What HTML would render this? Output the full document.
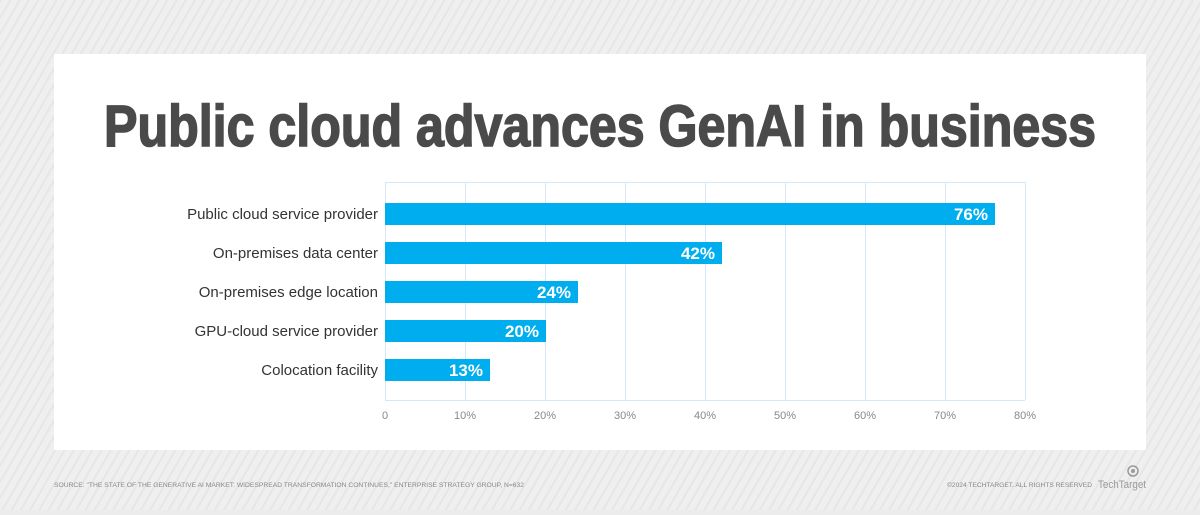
<!DOCTYPE html>
<html><head><style>
html,body{margin:0;padding:0;}
body{width:1200px;height:510px;overflow:hidden;background:#ececec;font-family:"Liberation Sans",sans-serif;}
</style></head><body>
<svg width="1200" height="510" xmlns="http://www.w3.org/2000/svg" font-family="Liberation Sans, sans-serif">
<defs>
<pattern id="st" width="8" height="8" patternUnits="userSpaceOnUse" patternTransform="rotate(30)">
<rect width="8" height="8" fill="#efefef"/><rect width="2" height="8" fill="#e6e6e6"/>
</pattern>
</defs>
<rect width="1200" height="510" fill="url(#st)"/>
<rect x="54" y="54" width="1092" height="396" fill="#fff"/>
<text x="600" y="146" text-anchor="middle" font-size="58" font-weight="bold" fill="#4a4a4a" stroke="#4a4a4a" stroke-width="1.6" textLength="992" lengthAdjust="spacingAndGlyphs">Public cloud advances GenAI in business</text>
<g stroke="#d6e8f5" stroke-width="1">
<line x1="385" y1="182.5" x2="1025" y2="182.5"/>
<line x1="385" y1="400.5" x2="1025" y2="400.5"/>
<line x1="385.5" y1="182" x2="385.5" y2="400"/>
<line x1="465.5" y1="182" x2="465.5" y2="400"/>
<line x1="545.5" y1="182" x2="545.5" y2="400"/>
<line x1="625.5" y1="182" x2="625.5" y2="400"/>
<line x1="705.5" y1="182" x2="705.5" y2="400"/>
<line x1="785.5" y1="182" x2="785.5" y2="400"/>
<line x1="865.5" y1="182" x2="865.5" y2="400"/>
<line x1="945.5" y1="182" x2="945.5" y2="400"/>
<line x1="1025.5" y1="182" x2="1025.5" y2="400"/>
</g>
<g fill="#00aeef">
<rect x="385" y="203" width="610" height="22"/>
<rect x="385" y="242" width="337" height="22"/>
<rect x="385" y="281" width="193" height="22"/>
<rect x="385" y="320" width="161" height="22"/>
<rect x="385" y="359" width="105" height="22"/>
</g>
<g fill="#fff" font-weight="bold" font-size="17" text-anchor="end">
<text x="988" y="220">76%</text>
<text x="715" y="259">42%</text>
<text x="571" y="298">24%</text>
<text x="539" y="337">20%</text>
<text x="483" y="376">13%</text>
</g>
<g fill="#333" font-size="15" text-anchor="end">
<text x="378" y="219">Public cloud service provider</text>
<text x="378" y="258">On-premises data center</text>
<text x="378" y="297">On-premises edge location</text>
<text x="378" y="336">GPU-cloud service provider</text>
<text x="378" y="375">Colocation facility</text>
</g>
<g fill="#888" font-size="11" text-anchor="middle">
<text x="385" y="419">0</text><text x="465" y="419">10%</text><text x="545" y="419">20%</text>
<text x="625" y="419">30%</text><text x="705" y="419">40%</text><text x="785" y="419">50%</text>
<text x="865" y="419">60%</text><text x="945" y="419">70%</text><text x="1025" y="419">80%</text>
</g>
<text x="54" y="487" font-size="6.5" fill="#888" textLength="470" lengthAdjust="spacingAndGlyphs">SOURCE: "THE STATE OF THE GENERATIVE AI MARKET: WIDESPREAD TRANSFORMATION CONTINUES," ENTERPRISE STRATEGY GROUP, N=632</text>
<text x="947" y="487" font-size="6.5" fill="#888" textLength="145" lengthAdjust="spacingAndGlyphs">©2024 TECHTARGET. ALL RIGHTS RESERVED</text>
<text x="1146" y="488" font-size="11" fill="#999" text-anchor="end" textLength="48" lengthAdjust="spacingAndGlyphs">TechTarget</text>
<circle cx="1133" cy="471" r="5" fill="none" stroke="#999" stroke-width="1.5"/>
<circle cx="1133" cy="471" r="2" fill="#999"/>
</svg>
</body></html>
